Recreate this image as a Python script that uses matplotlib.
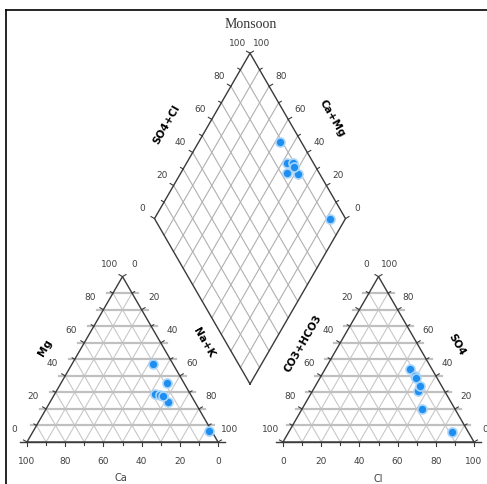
import numpy as np
import matplotlib.pyplot as plt

# 阳离子 (%)
ca = [10.3, 18.5, 8.7, 16.2, 13.8, 14.9, 1.3]
mg = [47.2, 29.0, 35.7, 28.4, 24.4, 27.8, 6.8]
# 阴离子 (%)
so4 = [44.1, 31.0, 40.1, 20.0, 38.9, 33.7, 6.2]
cl = [44.5, 55.0, 49.0, 63.0, 50.0, 55.0, 85.5]

tick_vals = [0, 20, 40, 60, 80, 100]
title = 'Monsoon'

S = 191.0
H = S * np.sqrt(3) / 2
cat_o = (27.0, 443.0)
an_o = (283.0, 443.0)
dia_b = (250.0, 385.0)

grid_c = '#c8c8c8'
edge_c = '#3a3a3a'
txt_c = '#404040'


def tri_xy(o, right, top):
    right = np.asarray(right, float)
    top = np.asarray(top, float)
    return o[0] + S * (right + top / 2) / 100, o[1] - H * top / 100


def dia_xy(a, c):
    a = np.asarray(a, float)
    c = np.asarray(c, float)
    return dia_b[0] + S / 2 * (a - c) / 100, dia_b[1] - H * (a + c) / 100


def draw_triangle(ax, o):
    # 斜网格线
    for v in range(10, 100, 10):
        x, y = tri_xy(o, [v, v], [0, 100 - v])
        ax.plot(x, y, color=grid_c, lw=0.8, zorder=1)
        x, y = tri_xy(o, [0, 100 - v], [100 - v, 0])
        ax.plot(x, y, color=grid_c, lw=0.8, zorder=1)
    # 水平网格线, 伸出边界
    for v in range(10, 100, 10):
        x, y = tri_xy(o, [0, 100 - v], [v, v])
        ax.plot([x[0] - 6, x[1] + 6], y, color='#c0c0c0', lw=1.6, zorder=1)
    x, y = tri_xy(o, [0, 100, 0, 0], [0, 0, 100, 0])
    ax.plot(x, y, color=edge_c, lw=1.0, zorder=2)
    ax.plot([x[0] - 7, x[1] + 7], [y[0], y[1]], color=edge_c, lw=1.0, zorder=2)
    # 刻度
    for v in range(0, 101, 10):
        L = 3 if v % 20 else 4
        px, py = tri_xy(o, 0, v)
        ax.plot([px, px - 0.866 * L], [py, py - 0.5 * L], color=edge_c, lw=0.8)
        px, py = tri_xy(o, v, 100 - v)
        ax.plot([px, px + 0.866 * L], [py, py - 0.5 * L], color=edge_c, lw=0.8)
        px, py = tri_xy(o, v, 0)
        ax.plot([px, px], [py, py + L], color=edge_c, lw=0.8)


def draw_diamond(ax):
    for v in range(10, 100, 10):
        x, y = dia_xy([v, v], [0, 100])
        ax.plot(x, y, color='#b0b0b0', lw=0.8, zorder=1)
        x, y = dia_xy([0, 100], [v, v])
        ax.plot(x, y, color='#b0b0b0', lw=0.8, zorder=1)
    x, y = dia_xy([0, 100, 100, 0, 0], [0, 0, 100, 100, 0])
    ax.plot(x, y, color=edge_c, lw=1.0, zorder=2)
    for v in range(0, 101, 10):
        L = 3 if v % 20 else 4
        px, py = dia_xy(v, 100)
        ax.plot([px, px - 0.866 * L], [py, py - 0.5 * L], color=edge_c, lw=0.8)
        px, py = dia_xy(100, v)
        ax.plot([px, px + 0.866 * L], [py, py - 0.5 * L], color=edge_c, lw=0.8)


fig = plt.figure(figsize=(4.87, 4.85), dpi=100)
ax = fig.add_axes([0, 0, 1, 1])
ax.set_xlim(0, 487)
ax.set_ylim(485, 0)
ax.axis('off')

# 外框
ax.plot([6, 487], [11, 11], color='black', lw=1.2)
ax.plot([6, 6], [11, 485], color='black', lw=1.2)

draw_triangle(ax, cat_o)
draw_triangle(ax, an_o)
draw_diamond(ax)

tk = dict(fontsize=6.5, color=txt_c, ha='center', va='center')
for v in tick_vals:
    # 阳离子三角形
    px, py = tri_xy(cat_o, 0, v)
    ax.text(px - 13, py - 13, str(v), **tk)
    px, py = tri_xy(cat_o, v, 100 - v)
    ax.text(px + 12, py - 13, str(v), **tk)
    px, py = tri_xy(cat_o, 100 - v, 0)
    ax.text(px, py + 19, str(v), **tk)
    # 阴离子三角形
    px, py = tri_xy(an_o, 0, 100 - v)
    ax.text(px - 12, py - 13, str(v), **tk)
    px, py = tri_xy(an_o, 100 - v, v)
    ax.text(px + 11, py - 13, str(v), **tk)
    px, py = tri_xy(an_o, v, 0)
    ax.text(px, py + 19, str(v), **tk)
    # 菱形
    px, py = dia_xy(v, 100)
    ax.text(px - 12, py - 11, str(v), **tk)
    px, py = dia_xy(100, v)
    ax.text(px + 12, py - 11, str(v), **tk)

bt = dict(fontsize=7.5, fontweight='bold', color='black', ha='center', va='center')
ax.text(45, 348, 'Mg', rotation=60, **bt)
ax.text(204, 343, 'Na+K', rotation=-60, **bt)
ax.text(303, 343, 'CO3+HCO3', rotation=60, **bt)
ax.text(457, 345, 'SO4', rotation=-60, **bt)
ax.text(167, 125, 'SO4+Cl', rotation=60, **bt)
ax.text(332, 118, 'Ca+Mg', rotation=-60, **bt)
ax.text(121, 478, 'Ca', fontsize=7, color=txt_c, ha='center', va='center')
ax.text(378, 479, 'Cl', fontsize=7, color=txt_c, ha='center', va='center')
ax.text(251, 25, title, fontsize=10, family='Liberation Serif', color='#333333',
        ha='center', va='center')

# 数据点
ca = np.array(ca)
mg = np.array(mg)
nak = 100 - ca - mg
so4 = np.array(so4)
cl = np.array(cl)
mk = dict(s=42, c='#1f8ef1', edgecolors='#a9d5fb', linewidths=1.2, zorder=5)
x, y = tri_xy(cat_o, nak, mg)
ax.scatter(x, y, **mk)
x, y = tri_xy(an_o, cl, so4)
ax.scatter(x, y, **mk)
x, y = dia_xy(so4 + cl, ca + mg)
ax.scatter(x, y, **mk)

fig.savefig('out.png', dpi=100)
